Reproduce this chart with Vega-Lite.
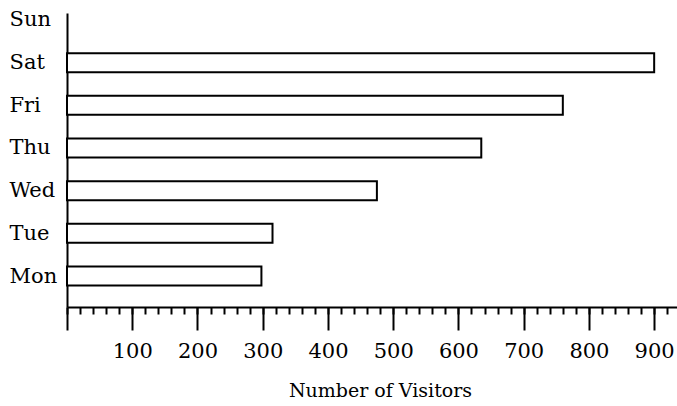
{
  "$schema": "https://vega.github.io/schema/vega-lite/v6.json",
  "autosize": {"type": "none"},
  "padding": {"left": 67, "top": 13, "right": 0, "bottom": 99},
  "width": 610,
  "height": 294,
  "background": "white",
  "config": {
    "view": {"stroke": null},
    "font": "DejaVu Serif",
    "axis": {"domainColor": "black", "tickColor": "black", "labelColor": "black", "titleColor": "black", "grid": false, "titleFontWeight": "normal"}
  },
  "data": {
    "values": [
      {"day": "Sat", "visitors": 900},
      {"day": "Fri", "visitors": 760},
      {"day": "Thu", "visitors": 635},
      {"day": "Wed", "visitors": 475},
      {"day": "Tue", "visitors": 315},
      {"day": "Mon", "visitors": 298}
    ]
  },
  "layer": [
    {
      "mark": {"type": "bar", "fill": "white", "stroke": "black", "strokeWidth": 2, "size": 19},
      "encoding": {
        "y": {
          "field": "day", "type": "nominal",
          "scale": {"type": "point", "domain": ["Sun", "Sat", "Fri", "Thu", "Wed", "Tue", "Mon"], "padding": 0.445, "align": 0.184},
          "axis": {"title": null, "ticks": false, "tickSize": 0, "labelAlign": "left", "labelPadding": 58, "labelFont": "DejaVu Serif", "labelFontSize": 21, "labelBaseline": "middle", "domainWidth": 2}
        },
        "x": {
          "field": "visitors", "type": "quantitative",
          "scale": {"domain": [0, 935], "nice": false, "zero": true},
          "axis": {
            "orient": "bottom",
            "values": [0, 100, 200, 300, 400, 500, 600, 700, 800, 900],
            "labelExpr": "datum.value == 0 ? '' : datum.label",
            "format": "d",
            "tickSize": 23, "tickWidth": 2, "domainWidth": 2,
            "labelFont": "DejaVu Serif",
            "labelFontSize": 21, "labelPadding": 10, "labelFlush": false,
            "title": "Number of Visitors", "titleFontSize": 19,
            "titleFont": "DejaVu Serif",
            "titleX": 313, "titleY": 89, "titleAlign": "center", "titleBaseline": "alphabetic"
          }
        }
      }
    },
    {
      "mark": {"type": "bar", "opacity": 0, "size": 1},
      "encoding": {
        "y": {"field": "day", "type": "nominal"},
        "x": {
          "field": "visitors", "type": "quantitative",
          "axis": {
            "orient": "bottom",
            "values": [0, 20, 40, 60, 80, 100, 120, 140, 160, 180, 200, 220, 240, 260, 280, 300, 320, 340, 360, 380, 400, 420, 440, 460, 480, 500, 520, 540, 560, 580, 600, 620, 640, 660, 680, 700, 720, 740, 760, 780, 800, 820, 840, 860, 880, 900, 920],
            "labels": false, "title": null, "domain": false,
            "tickSize": 7, "tickWidth": 2
          }
        }
      }
    }
  ],
  "resolve": {"axis": {"x": "independent"}}
}
